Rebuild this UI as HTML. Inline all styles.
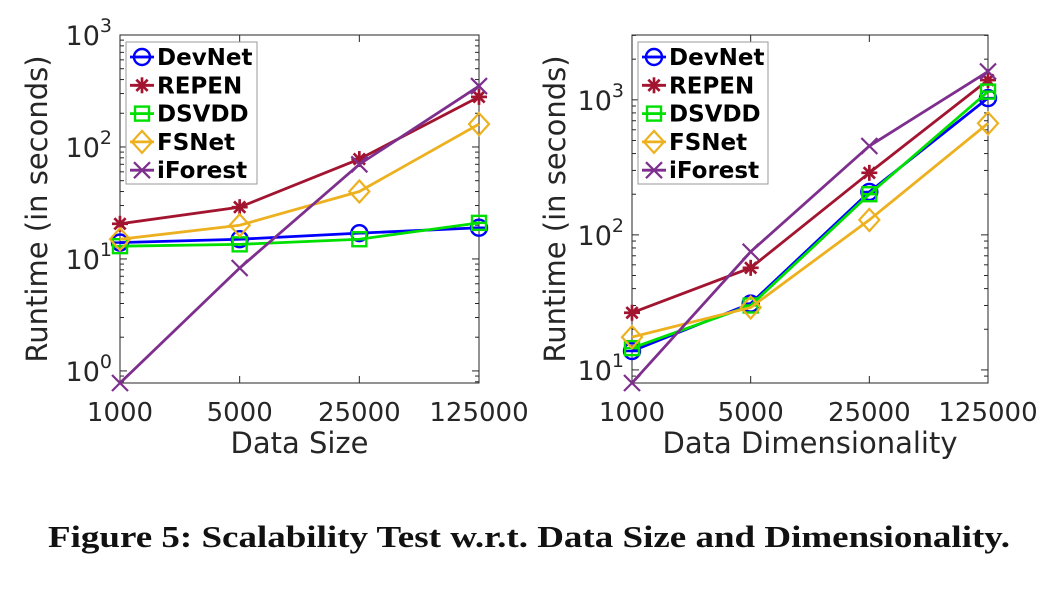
<!DOCTYPE html>
<html><head><meta charset="utf-8"><style>
body{margin:0;background:#fff;width:1057px;height:596px;overflow:hidden}
svg text{font-family:"DejaVu Sans","Liberation Sans",sans-serif;fill:#262626}
</style></head><body>
<svg id="s" width="1057" height="596">
<text x="48" y="547" textLength="962" lengthAdjust="spacingAndGlyphs" style="font-family:'Liberation Serif',serif;font-weight:bold;font-size:31px;fill:#111">Figure 5: Scalability Test w.r.t. Data Size and Dimensionality.</text>
</svg>
<script>
const categories=["1000","5000","25000","125000"];
const seriesNames=["DevNet","REPEN","DSVDD","FSNet","iForest"];
const leftDevNet=[14,15,17,19];
const leftREPEN=[20.6,29,78,280];
const leftDSVDD=[13,13.5,15,21];
const leftFSNet=[15,20,40,160];
const leftIForest=[0.78,8.3,70,350];
const rightDevNet=[13.8,31,208,1030];
const rightREPEN=[26.5,57,288,1400];
const rightDSVDD=[14.5,30,200,1150];
const rightFSNet=[17.5,29,129,670];
const rightIForest=[8,75,455,1620];
const leftTicks=[0,1,2,3];
const rightTicks=[1,2,3];
const colors=["#0000ff","#a2142f","#00e000","#edb120","#7e2f8e"];
const NS="http://www.w3.org/2000/svg";
const svg=document.getElementById('s');
function mk(t,a,p){const e=document.createElementNS(NS,t);for(const k in a)e.setAttribute(k,a[k]);(p||svg).appendChild(e);return e;}
function marker(g,i,x,y,c){
  if(i===0){mk('circle',{cx:x,cy:y,r:8,fill:'none',stroke:c,'stroke-width':2.4},g);mk('line',{x1:x-8,y1:y,x2:x+8,y2:y,stroke:c,'stroke-width':2.4},g);}
  else if(i===1){for(const a of [0,45,90,135]){const r=a*Math.PI/180;mk('line',{x1:x-8*Math.cos(r),y1:y-8*Math.sin(r),x2:x+8*Math.cos(r),y2:y+8*Math.sin(r),stroke:c,'stroke-width':2.7},g);}}
  else if(i===2){mk('rect',{x:x-7,y:y-7,width:14,height:14,fill:'none',stroke:c,'stroke-width':2.4},g);mk('line',{x1:x-7,y1:y,x2:x+7,y2:y,stroke:c,'stroke-width':2.4},g);}
  else if(i===3){mk('polygon',{points:`${x},${y-11} ${x+10},${y} ${x},${y+11} ${x-10},${y}`,fill:'none',stroke:c,'stroke-width':2.2},g);}
  else {mk('line',{x1:x-8,y1:y-8,x2:x+8,y2:y+8,stroke:c,'stroke-width':2.2},g);mk('line',{x1:x-8,y1:y+8,x2:x+8,y2:y-8,stroke:c,'stroke-width':2.2},g);}
}
function plot(o){
  const g=mk('g',{});
  
  
  const L=o.x0,R=o.x1,T=35,B=383;
  const ys=v=>B-(Math.log10(v)-o.lmin)/(o.lmax-o.lmin)*(B-T);
  const xs=i=>L+i*(R-L)/(categories.length-1);
  const box=mk('rect',{x:L,y:T,width:R-L,height:B-T,fill:'#fff',stroke:'#262626','stroke-width':1},g);
  
  
  for(let d=Math.floor(o.lmin);d<=Math.ceil(o.lmax);d++){for(let m=1;m<10;m++){const v=Math.pow(10,d)*m;const l=Math.log10(v);if(l<o.lmin||l>o.lmax)continue;const y=ys(v);const len=m===1?7:4;
    mk('line',{x1:L,y1:y,x2:L+len,y2:y,stroke:'#262626','stroke-width':1},g);mk('line',{x1:R,y1:y,x2:R-len,y2:y,stroke:'#262626','stroke-width':1},g);}}
  o.ticks.forEach(t=>{const y=ys(Math.pow(10,t));const tx=mk('text',{x:L-8,y:y+10,'text-anchor':'end','font-size':27},g);tx.innerHTML=`10<tspan dy="-13" font-size="19">${t}</tspan>`;
    
    });
  categories.forEach((c,i)=>{const x=xs(i);mk('line',{x1:x,y1:B,x2:x,y2:B-7,stroke:'#262626'},g);mk('line',{x1:x,y1:T,x2:x,y2:T+7,stroke:'#262626'},g);
    const tx=mk('text',{x:x,y:421,'text-anchor':'middle','font-size':26},g);tx.textContent=c;
    
    });
  const xt=mk('text',{x:(L+R)/2,y:453,'text-anchor':'middle','font-size':29},g);xt.textContent=o.xtitle;
  
  
  const yt=mk('text',{x:0,y:0,'text-anchor':'middle','font-size':29,transform:`translate(${o.ytx},${(T+B)/2}) rotate(-90)`},g);yt.textContent='Runtime (in seconds)';
  
  
  o.series.forEach((s,i)=>{const sg=mk('g',{},g);
    
    
    mk('polyline',{points:s.map((v,j)=>xs(j)+','+ys(v)).join(' '),fill:'none',stroke:colors[i],'stroke-width':2.8},sg);
    s.forEach((v,j)=>marker(sg,i,xs(j),ys(v),colors[i]));});
  const lg=mk('g',{},g);
  
  
  mk('rect',{x:L+6,y:42,width:o.lw,height:142,fill:'#fff',stroke:'#999','stroke-width':1},lg);
  seriesNames.forEach((n,i)=>{const y=57+i*28.3;const e=mk('g',{},lg);
    
    
    mk('line',{x1:L+10,y1:y,x2:L+34,y2:y,stroke:colors[i],'stroke-width':2.8},e);marker(e,i,L+22,y,colors[i]);
    const t=mk('text',{x:L+37,y:y+8,'font-size':23,'font-weight':'bold'},e);t.style.fill='#000';t.textContent=n;});
}
plot({name:'left-chart',x0:120,x1:479,lmin:Math.log10(0.78),lmax:3,ticks:leftTicks,xtitle:'Data Size',ytx:47,lw:131,
  series:[leftDevNet,leftREPEN,leftDSVDD,leftFSNet,leftIForest]});
plot({name:'right-chart',x0:632,x1:988,lmin:Math.log10(8),lmax:Math.log10(3020),ticks:rightTicks,xtitle:'Data Dimensionality',ytx:565,lw:130,
  series:[rightDevNet,rightREPEN,rightDSVDD,rightFSNet,rightIForest]});
</script>
</body></html>
